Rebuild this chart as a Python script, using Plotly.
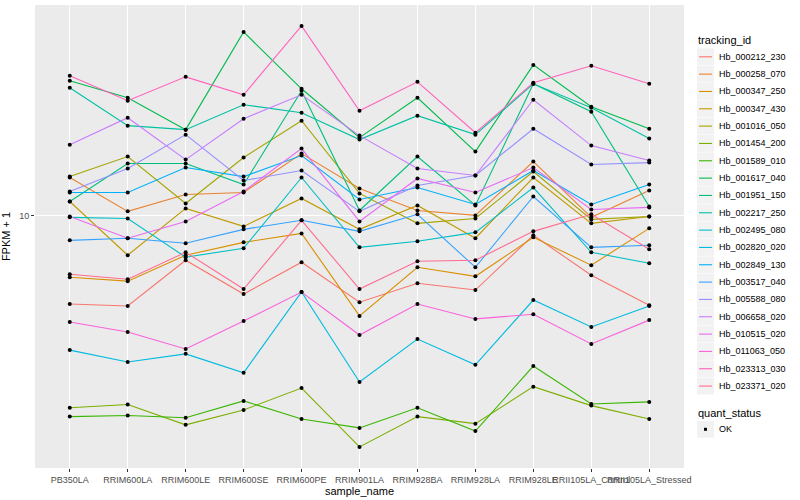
import plotly.graph_objects as go

samples = ["PB350LA", "RRIM600LA", "RRIM600LE", "RRIM600SE", "RRIM600PE", "RRIM901LA",
           "RRIM928BA", "RRIM928LA", "RRIM928LE", "RRII105LA_Control", "RRII105LA_Stressed"]

tracking_ids = ["Hb_000212_230", "Hb_000258_070", "Hb_000347_250", "Hb_000347_430", "Hb_001016_050",
                "Hb_001454_200", "Hb_001589_010", "Hb_001617_040", "Hb_001951_150", "Hb_002217_250",
                "Hb_002495_080", "Hb_002820_020", "Hb_002849_130", "Hb_003517_040", "Hb_005588_080",
                "Hb_006658_020", "Hb_010515_020", "Hb_011063_050", "Hb_023313_030", "Hb_023371_020"]

colors = ["#F8766D", "#EA8331", "#D89000", "#C09B00", "#A3A500", "#7CAE00", "#39B600", "#00BB4E",
          "#00BF7D", "#00C1A3", "#00BFC4", "#00BAE0", "#00B0F6", "#35A2FF", "#9590FF", "#C77CFF",
          "#E76BF3", "#FA62DB", "#FF62BC", "#FF6C91"]

# FPKM + 1 per sample
hb_000212_230 = [5.57, 5.50, 7.44, 5.95, 7.34, 5.64, 6.39, 6.11, 8.77, 6.74, 5.53]
hb_000258_070 = [12.84, 10.27, 11.48, 11.63, 15.04, 11.94, 10.33, 10.00, 14.27, 9.87, 11.79]
hb_000347_250 = [6.65, 6.48, 7.69, 8.37, 8.88, 5.15, 7.10, 6.69, 8.65, 7.20, 9.18]
hb_000347_430 = [10.96, 7.69, 10.47, 9.30, 11.18, 9.12, 10.68, 8.60, 12.84, 9.49, 9.93]
hb_001016_050 = [12.92, 14.74, 10.82, 14.65, 18.68, 11.56, 9.49, 9.80, 13.36, 9.74, 9.93]
hb_001454_200 = [2.81, 2.87, 2.51, 2.77, 3.20, 2.17, 2.65, 2.53, 3.23, 2.85, 2.61]
hb_001589_010 = [2.65, 2.67, 2.63, 2.94, 2.61, 2.46, 2.81, 2.41, 3.70, 2.88, 2.92]
hb_001617_040 = [24.31, 21.73, 17.61, 33.55, 23.06, 16.71, 21.73, 15.24, 27.00, 20.48, 17.72]
hb_001951_150 = [10.96, 14.08, 14.08, 12.26, 22.76, 10.33, 14.74, 10.68, 23.83, 19.82, 10.61]
hb_002217_250 = [23.21, 18.08, 17.61, 20.76, 19.69, 16.49, 19.31, 17.04, 23.83, 20.35, 16.60]
hb_002495_080 = [9.87, 9.80, 7.59, 8.05, 12.84, 8.10, 8.43, 8.94, 12.02, 7.84, 7.29]
hb_002820_020 = [4.11, 3.80, 4.01, 3.54, 6.03, 3.33, 4.42, 3.73, 5.72, 4.79, 5.50]
hb_002849_130 = [11.63, 11.63, 13.71, 12.92, 14.84, 11.11, 12.02, 10.75, 13.45, 10.75, 12.26]
hb_003517_040 = [8.48, 8.60, 8.32, 9.12, 9.68, 9.00, 10.07, 7.10, 11.33, 8.10, 8.21]
hb_005588_080 = [11.71, 13.62, 17.04, 12.59, 13.45, 10.27, 12.18, 13.01, 17.72, 13.99, 14.17]
hb_006658_020 = [15.95, 19.05, 14.45, 18.93, 22.17, 16.93, 13.62, 13.01, 21.45, 15.85, 14.36]
hb_010515_020 = [9.93, 8.60, 9.61, 11.71, 15.54, 9.61, 12.76, 11.63, 13.71, 10.40, 10.54]
hb_011063_050 = [4.95, 4.63, 4.14, 4.98, 6.03, 4.54, 5.57, 5.05, 5.21, 4.28, 5.01]
hb_023313_030 = [25.12, 21.31, 24.95, 22.17, 34.90, 19.95, 24.15, 17.26, 23.99, 26.83, 23.83]
hb_023371_020 = [6.78, 6.56, 7.84, 6.15, 9.68, 6.15, 7.39, 7.44, 9.00, 10.07, 8.00]

series = [hb_000212_230, hb_000258_070, hb_000347_250, hb_000347_430, hb_001016_050,
          hb_001454_200, hb_001589_010, hb_001617_040, hb_001951_150, hb_002217_250,
          hb_002495_080, hb_002820_020, hb_002849_130, hb_003517_040, hb_005588_080,
          hb_006658_020, hb_010515_020, hb_011063_050, hb_023313_030, hb_023371_020]

y_ticks = [10]
quant_status = ["OK"]

FONT = "Liberation Sans, Arial, Helvetica, sans-serif"

fig = go.Figure()
for name, vals, col in zip(tracking_ids, series, colors):
    fig.add_trace(go.Scatter(x=samples, y=vals, mode="lines", name=name,
                             line=dict(color=col, width=1.1), showlegend=False,
                             hoverinfo="skip"))

all_x, all_y = [], []
for vals in series:
    all_x += samples
    all_y += vals
fig.add_trace(go.Scatter(x=all_x, y=all_y, mode="markers", name="OK",
                         marker=dict(color="black", size=4, symbol="circle"),
                         showlegend=False))

# panel geometry in pixels (for legend placement)
L, R, T, B = 35, 684, 5, 468
def px(x):
    return (x - L) / (R - L)
def py(y):
    return (B - y) / (B - T)

shapes, annots = [], []
annots.append(dict(text="tracking_id", x=px(696), y=py(40.5), xref="paper", yref="paper",
                   xanchor="left", yanchor="middle", showarrow=False,
                   font=dict(size=11, color="black", family=FONT)))
for i, (name, col) in enumerate(zip(tracking_ids, colors)):
    cy = 56.8 + 17.33 * i
    shapes.append(dict(type="rect", xref="paper", yref="paper", x0=px(697), x1=px(714),
                       y0=py(cy - 8.4), y1=py(cy + 8.4), fillcolor="#F2F2F2", line=dict(width=0)))
    shapes.append(dict(type="line", xref="paper", yref="paper", x0=px(699), x1=px(712),
                       y0=py(cy), y1=py(cy), line=dict(color=col, width=1.1)))
    annots.append(dict(text=name, x=px(717), y=py(cy), xref="paper", yref="paper",
                       xanchor="left", yanchor="middle", showarrow=False,
                       font=dict(size=9, color="black", family=FONT)))

annots.append(dict(text="quant_status", x=px(696), y=py(412.5), xref="paper", yref="paper",
                   xanchor="left", yanchor="middle", showarrow=False,
                   font=dict(size=11, color="black", family=FONT)))
cy = 429.3
shapes.append(dict(type="rect", xref="paper", yref="paper", x0=px(697), x1=px(714),
                   y0=py(cy - 8.4), y1=py(cy + 8.4), fillcolor="#F2F2F2", line=dict(width=0)))
shapes.append(dict(type="rect", xref="paper", yref="paper", x0=px(704), x1=px(707),
                   y0=py(cy - 1.5), y1=py(cy + 1.5), fillcolor="black", line=dict(width=0)))
annots.append(dict(text=quant_status[0], x=px(717), y=py(cy), xref="paper", yref="paper",
                   xanchor="left", yanchor="middle", showarrow=False,
                   font=dict(size=9, color="black", family=FONT)))

fig.update_layout(
    width=800, height=500,
    margin=dict(l=L, r=800 - R, t=T, b=500 - B),
    plot_bgcolor="#EBEBEB", paper_bgcolor="white",
    showlegend=False,
    font=dict(family=FONT, color="black"),
    shapes=shapes, annotations=annots,
    xaxis=dict(type="category", categoryorder="array", categoryarray=samples,
               range=[-0.6, 10.6], showgrid=True, gridcolor="white", gridwidth=1.1,
               zeroline=False, showline=False, ticks="outside", ticklen=3,
               tickcolor="#333333", tickwidth=1, tickangle=0,
               tickfont=dict(size=9, color="#4D4D4D", family=FONT),
               title=dict(text="sample_name", font=dict(size=11, color="black", family=FONT),
                          standoff=3)),
    yaxis=dict(type="log", range=[0.276, 1.603], tickvals=y_ticks,
               ticktext=[str(v) for v in y_ticks], showgrid=True, gridcolor="white",
               gridwidth=1.1, zeroline=False, showline=False, ticks="outside", ticklen=3,
               tickcolor="#333333", tickwidth=1,
               tickfont=dict(size=9, color="#4D4D4D", family=FONT),
               title=dict(text="FPKM + 1", font=dict(size=11, color="black", family=FONT),
                          standoff=7)),
)

fig.write_html("out.html", config={"displayModeBar": False},
               post_script="document.body.style.margin='0px';document.body.style.overflow='hidden';")
